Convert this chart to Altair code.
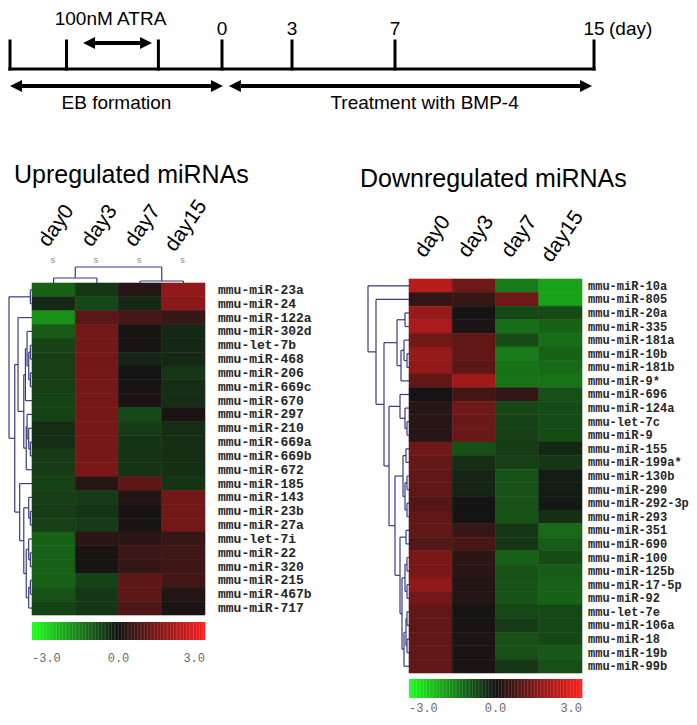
import altair as alt
import pandas as pd

# ---------------- data ----------------
DAYS = ["day0", "day3", "day7", "day15"]

UP_GENES = ["mmu-miR-23a", "mmu-miR-24", "mmu-miR-122a", "mmu-miR-302d", "mmu-let-7b",
            "mmu-miR-468", "mmu-miR-206", "mmu-miR-669c", "mmu-miR-670", "mmu-miR-297",
            "mmu-miR-210", "mmu-miR-669a", "mmu-miR-669b", "mmu-miR-672", "mmu-miR-185",
            "mmu-miR-143", "mmu-miR-23b", "mmu-miR-27a", "mmu-let-7i", "mmu-miR-22",
            "mmu-miR-320", "mmu-miR-215", "mmu-miR-467b", "mmu-miR-717"]
UP_DAY0 = [-1.0, -0.25, -1.6, -0.9, -0.6, -0.55, -0.55, -0.55, -0.6, -0.6, -0.3, -0.3,
           -0.5, -0.5, -0.6, -0.55, -0.5, -0.55, -1.0, -1.0, -1.0, -1.0, -0.8, -0.6]
UP_DAY3 = [-0.45, -0.65, 0.9, 1.2, 1.2, 1.2, 1.2, 1.2, 1.25, 1.25, 1.25, 1.25,
           1.25, 1.3, 0.25, -0.5, -0.4, -0.5, 0.3, 0.05, 0.05, -0.6, -0.45, -0.45]
UP_DAY7 = [0.25, -0.25, 0.65, 0.05, 0.05, -0.2, 0.0, 0.05, 0.1, -0.65, -0.5, -0.4,
           -0.4, -0.4, 0.95, 0.2, 0.05, 0.05, 0.3, 0.5, 0.4, 0.95, 0.95, 0.75]
UP_DAY15 = [1.6, 1.5, 0.45, -0.25, -0.25, -0.25, -0.45, -0.3, -0.3, 0.1, -0.3, -0.35,
            -0.35, -0.35, -0.4, 1.2, 1.2, 1.2, 0.45, 0.55, 0.55, 0.6, 0.2, 0.1]

DN_GENES = ["mmu-miR-10a", "mmu-miR-805", "mmu-miR-20a", "mmu-miR-335", "mmu-miR-181a",
            "mmu-miR-10b", "mmu-miR-181b", "mmu-miR-9*", "mmu-miR-696", "mmu-miR-124a",
            "mmu-let-7c", "mmu-miR-9", "mmu-miR-155", "mmu-miR-199a*", "mmu-miR-130b",
            "mmu-miR-290", "mmu-miR-292-3p", "mmu-miR-293", "mmu-miR-351", "mmu-miR-690",
            "mmu-miR-100", "mmu-miR-125b", "mmu-miR-17-5p", "mmu-miR-92", "mmu-let-7e",
            "mmu-miR-106a", "mmu-miR-18", "mmu-miR-19b", "mmu-miR-99b"]
DN_DAY0 = [2.1, 0.4, 1.65, 1.9, 1.15, 1.65, 1.6, 1.0, 0.0, 0.25, 0.25, 0.25, 1.15, 1.05,
           1.0, 1.0, 0.8, 1.0, 1.0, 0.8, 1.3, 1.3, 1.6, 1.2, 1.0, 1.0, 1.0, 1.0, 1.0]
DN_DAY3 = [1.15, 0.45, 0.0, 0.1, 1.0, 1.0, 0.9, 1.8, 0.6, 1.15, 1.1, 1.1, -0.75, -0.35,
           -0.2, -0.2, 0.0, 0.0, 0.45, 0.7, 0.3, 0.3, 0.2, 0.2, 0.05, 0.05, 0.1, 0.1, 0.1]
DN_DAY7 = [-1.3, 1.15, -0.65, -1.15, -0.7, -1.3, -1.2, -1.2, 0.4, -0.65, -0.6, -0.55, -0.5,
           -0.55, -0.8, -0.8, -0.8, -0.8, -0.45, -0.45, -1.0, -0.8, -0.8, -0.8, -0.65, -0.5,
           -0.75, -0.75, -0.45]
DN_DAY15 = [-1.8, -1.8, -0.7, -1.0, -1.15, -1.0, -1.1, -1.2, -0.75, -0.7, -0.7, -0.7, -0.25,
            -0.45, -0.1, -0.1, -0.05, -0.35, -1.1, -0.9, -0.7, -0.9, -1.0, -1.0, -0.65, -0.65,
            -0.65, -0.85, -0.75]

# dendrogram merges: (child a, child b, merge height); leaves 0..n-1, new nodes n, n+1, ...
UP_ROW_LINKAGE = [(0, 1, 2), (11, 12, 2), (10, 25, 4), (9, 26, 6), (13, 27, 7), (4, 5, 2),
                  (6, 7, 2), (29, 30, 4), (3, 31, 6), (8, 32, 8), (33, 28, 10), (2, 34, 17),
                  (16, 17, 2), (15, 36, 4), (19, 20, 2), (18, 38, 4), (21, 22, 2), (40, 23, 4),
                  (39, 41, 7), (37, 42, 10), (14, 43, 15), (35, 44, 21), (24, 45, 28)]
UP_COL_LINKAGE = [(0, 1, 5), (2, 3, 2), (4, 5, 16)]
DN_ROW_LINKAGE = [(2, 3, 4), (5, 6, 2), (4, 30, 5), (31, 7, 8), (29, 32, 12), (10, 11, 2),
                  (9, 34, 4), (8, 35, 9), (12, 13, 3), (14, 15, 2), (16, 17, 2), (38, 39, 4),
                  (37, 40, 6), (18, 19, 3), (20, 21, 2), (22, 23, 2), (43, 44, 4), (24, 25, 2),
                  (26, 27, 2), (46, 47, 3), (48, 28, 5), (45, 49, 7), (42, 50, 9), (41, 51, 14),
                  (36, 52, 20), (33, 53, 25), (1, 54, 33), (0, 55, 41)]

TL_TICKS = [-9, -6.6, -2.7, 0, 3, 7, 15]
TL_LABELED = [0, 3, 7, 15]
ATRA_ARROW = [-5.39, -3.48]
EB_ARROW = [-8.49, -0.47]
BMP_ARROW = [0.81, 14.44]
CB_TICKS = [-3.0, 0.0, 3.0]
CB_LABELS = ["-3.0", "0.0", "3.0"]

# ---------------- layout ----------------
OFF = 8
W, H = 681, 709


def px(v):
    return v - OFF


SANS = "Liberation Sans"
MONO = "Liberation Mono"
DCOL = "#3a3a85"

CSCALE = alt.Scale(domain=[-3, 0, 3], range=["#1eff1e", "#141414", "#ff1e1e"], interpolate="rgb")


def lin(dom, rng):
    return alt.Scale(domain=dom, range=[px(r) for r in rng], nice=False, zero=False)


def dendro_segments(linkage, n):
    pos = {i: i + 0.5 for i in range(n)}
    hgt = {i: 0.0 for i in range(n)}
    segs = []
    for k, (a, b, h) in enumerate(linkage):
        node = n + k
        segs.append(dict(p1=pos[a], p2=pos[a], h1=hgt[a], h2=h))
        segs.append(dict(p1=pos[b], p2=pos[b], h1=hgt[b], h2=h))
        segs.append(dict(p1=pos[a], p2=pos[b], h1=h, h2=h))
        pos[node] = (pos[a] + pos[b]) / 2
        hgt[node] = h
    return pd.DataFrame(segs)


def heatmap(genes, cols, x0, x1, y0, y1, label_x, label_size, title, title_x, title_base,
            collab_y, collab_dx, cb_y0, cb_y1, cb_lab_y, row_link, dmax, droot, col_link=None):
    n = len(genes)
    recs = []
    for j, vals in enumerate(cols):
        for i, v in enumerate(vals):
            recs.append(dict(gene=genes[i], day=DAYS[j], r0=i, r1=i + 1, c0=j, c1=j + 1, v=v))
    df = pd.DataFrame(recs)
    xs = lin([0, 4], [x0, x1])
    ys = lin([0, n], [y0, y1])
    layers = []
    layers.append(alt.Chart(df).mark_rect(strokeWidth=0.6).encode(
        x=alt.X("c0:Q", scale=xs, axis=None), x2="c1:Q",
        y=alt.Y("r0:Q", scale=ys, axis=None), y2="r1:Q",
        color=alt.Color("v:Q", scale=CSCALE, legend=None),
        stroke=alt.Stroke("v:Q", scale=CSCALE, legend=None)))
    gdf = pd.DataFrame(dict(gene=genes, rm=[i + 0.5 for i in range(n)]))
    layers.append(alt.Chart(gdf).mark_text(align="left", baseline="middle", font=MONO,
                                           fontWeight="bold", fontSize=label_size, color="#262626").encode(
        x=alt.value(px(label_x)), y=alt.Y("rm:Q", scale=ys, axis=None), text="gene:N"))
    cdf = pd.DataFrame(dict(day=DAYS, cm=[j + 0.5 for j in range(4)]))
    layers.append(alt.Chart(cdf).mark_text(angle=305, align="center", baseline="middle", font=SANS,
                                           fontSize=21, color="black", dx=collab_dx).encode(
        x=alt.X("cm:Q", scale=xs, axis=None), y=alt.value(px(collab_y)), text="day:N"))
    # title
    layers.append(alt.Chart(pd.DataFrame(dict(t=[title]))).mark_text(
        align="left", baseline="alphabetic", font=SANS, fontSize=25, color="black").encode(
        x=alt.value(px(title_x)), y=alt.value(px(title_base)), text="t:N"))
    # row dendrogram
    seg = dendro_segments(row_link, n)
    hs = lin([0, dmax], [x0, droot])
    layers.append(alt.Chart(seg).mark_rule(color=DCOL, strokeWidth=1.2).encode(
        x=alt.X("h1:Q", scale=hs, axis=None), x2="h2:Q",
        y=alt.Y("p1:Q", scale=ys, axis=None), y2="p2:Q"))
    if col_link is not None:
        cseg = dendro_segments(col_link, 4)
        vs = lin([0, 16], [y0, y0 - 16])
        layers.append(alt.Chart(cseg).mark_rule(color=DCOL, strokeWidth=1.2).encode(
            x=alt.X("p1:Q", scale=xs, axis=None), x2="p2:Q",
            y=alt.Y("h1:Q", scale=vs, axis=None), y2="h2:Q"))
        layers.append(alt.Chart(cdf.assign(s="s")).mark_text(
            fontSize=9, font=SANS, color="#8a8a8a", baseline="middle", dx=-1).encode(
            x=alt.X("cm:Q", scale=xs, axis=None), y=alt.value(px(y0 - 23)), text="s:N"))
    # colour bar
    steps = 120
    cb = pd.DataFrame(dict(a=[-3 + 6 * k / steps for k in range(steps)],
                           b=[-3 + 6 * (k + 1) / steps + 0.01 for k in range(steps)],
                           v=[-3 + 6 * (k + 0.5) / steps for k in range(steps)]))
    cbs = lin([-3, 3], [x0, x1])
    layers.append(alt.Chart(cb).mark_rect().encode(
        x=alt.X("a:Q", scale=cbs, axis=None), x2="b:Q",
        y=alt.value(px(cb_y0)), y2=alt.value(px(cb_y1)),
        color=alt.Color("v:Q", scale=CSCALE, legend=None)))
    for tick, lab, al in zip(CB_TICKS, CB_LABELS, ["left", "center", "right"]):
        layers.append(alt.Chart(pd.DataFrame(dict(t=[tick], l=[lab]))).mark_text(
            align=al, baseline="middle", font=MONO, fontSize=12, color="#6a6a6a").encode(
            x=alt.X("t:Q", scale=cbs, axis=None), y=alt.value(px(cb_lab_y)), text="l:N"))
    return layers


# ---------------- timeline ----------------
TS = lin([-9, 0, 3, 7, 15], [10, 222, 292, 395, 594])
tl = []
tl.append(alt.Chart(pd.DataFrame(dict(a=[TL_TICKS[0]], b=[TL_TICKS[-1]]))).mark_rule(
    color="black", strokeWidth=3.2, strokeCap="square").encode(
    x=alt.X("a:Q", scale=TS, axis=None), x2="b:Q", y=alt.value(px(69))))
tl.append(alt.Chart(pd.DataFrame(dict(d=TL_TICKS))).mark_rule(
    color="black", strokeWidth=3, strokeCap="square").encode(
    x=alt.X("d:Q", scale=TS, axis=None), y=alt.value(px(41)), y2=alt.value(px(69))))
for (a, b), yy in [(ATRA_ARROW, 43), (EB_ARROW, 86), (BMP_ARROW, 86)]:
    tl.append(alt.Chart(pd.DataFrame(dict(a=[a], b=[b]))).mark_rule(
        color="black", strokeWidth=3.8).encode(
        x=alt.X("a:Q", scale=TS, axis=None), x2="b:Q", y=alt.value(px(yy))))
    tl.append(alt.Chart(pd.DataFrame(dict(a=[a]))).mark_point(
        shape="M-2,0L0,-1L0,1Z", filled=True, size=144, color="black", opacity=1, strokeWidth=0).encode(
        x=alt.X("a:Q", scale=TS, axis=None), y=alt.value(px(yy))))
    tl.append(alt.Chart(pd.DataFrame(dict(b=[b]))).mark_point(
        shape="M2,0L0,-1L0,1Z", filled=True, size=144, color="black", opacity=1, strokeWidth=0).encode(
        x=alt.X("b:Q", scale=TS, axis=None), y=alt.value(px(yy))))
tl.append(alt.Chart(pd.DataFrame(dict(d=TL_LABELED, l=[str(v) for v in TL_LABELED]))).mark_text(
    font=SANS, fontSize=19, baseline="middle", align="center", color="black").encode(
    x=alt.X("d:Q", scale=TS, axis=None), y=alt.value(px(29)), text="l:N"))
tl.append(alt.Chart(pd.DataFrame(dict(d=[TL_LABELED[-1]], l=["(day)"]))).mark_text(
    font=SANS, fontSize=19, baseline="middle", align="left", color="black", dx=15).encode(
    x=alt.X("d:Q", scale=TS, axis=None), y=alt.value(px(29)), text="l:N"))
for arrow, lab, yy, dx in [(ATRA_ARROW, "100nM ATRA", 19, -7), (EB_ARROW, "EB formation", 103, 0),
                           (BMP_ARROW, "Treatment with BMP-4", 103, 14)]:
    tl.append(alt.Chart(pd.DataFrame(dict(d=[(arrow[0] + arrow[1]) / 2], l=[lab]))).mark_text(
        font=SANS, fontSize=19, baseline="middle", align="center", color="black", dx=dx).encode(
        x=alt.X("d:Q", scale=TS, axis=None), y=alt.value(px(yy)), text="l:N"))

up = heatmap(UP_GENES, [UP_DAY0, UP_DAY3, UP_DAY7, UP_DAY15], 32, 205, 283, 615, 218, 13,
             "Upregulated miRNAs", 14, 183, 230, 5, 622, 640, 658, UP_ROW_LINKAGE, 28, 9,
             col_link=UP_COL_LINKAGE)
dn = heatmap(DN_GENES, [DN_DAY0, DN_DAY3, DN_DAY7, DN_DAY15], 409, 582, 279, 673, 588, 12,
             "Downregulated miRNAs", 360, 187, 240, 4, 679, 698, 708, DN_ROW_LINKAGE, 41, 368)

chart = alt.layer(*(tl + up + dn)).properties(
    width=W, height=H, padding=0, autosize=alt.AutoSizeParams(type="none"), background="white"
).resolve_scale(
    x="independent", y="independent", color="independent", stroke="independent"
).configure_view(stroke=None)

chart.save("out.html", embed_options={"renderer": "svg", "actions": False})
